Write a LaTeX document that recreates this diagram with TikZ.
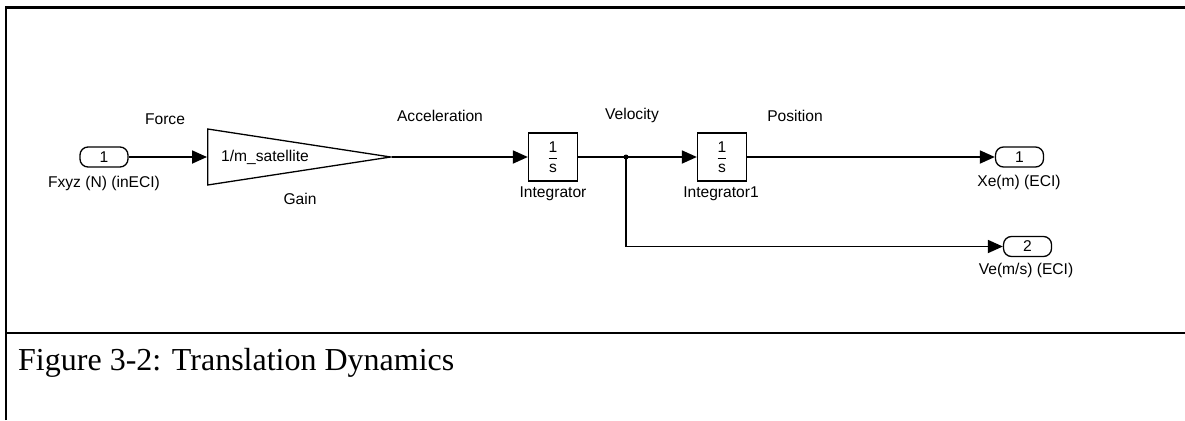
\documentclass[tikz,border=0pt]{standalone}
\usepackage{fontspec}
\setmainfont{Liberation Serif}
\setsansfont{Liberation Sans}
\usetikzlibrary{arrows.meta, shapes.geometric}

\begin{document}
\begin{tikzpicture}[x=1pt, y=-1pt,
  every node/.style={font=\sffamily\fontsize{15.6}{18}\selectfont},
  port/.style={draw, rounded corners=8pt, minimum width=48pt, minimum height=20pt, inner sep=0pt, line width=1.3pt},
  intg/.style={draw, minimum width=49pt, minimum height=48pt, inner sep=0pt, line width=1.3pt},
  gain/.style={draw, isosceles triangle, isosceles triangle stretches, shape border rotate=0, minimum width=56pt, minimum height=183pt, inner sep=0pt, line width=1.3pt},
  sig/.style={line width=1.8pt, -{Triangle[length=15pt, width=13pt]}}]
\useasboundingbox (0,0) rectangle (1185,420);
\draw[line width=2.5pt] (6,420) -- (6,7.5) -- (1185,7.5);
\draw[line width=2.5pt] (6,333) -- (1185,333);

\node[port] (in1) at (104,157) {1};
\node (in1lbl) at (104,183) {Fxyz (N) (inECI)};
\node[gain, anchor=west] (gain) at (207,157) {};
\node (gaintxt) at (265,157) {1/m\_satellite};
\node (gainlbl) at (300,199) {Gain};
\node[intg] (int1) at (553,157) {$\displaystyle\frac{\mbox{1}}{\mbox{s}}$};
\node (int1lbl) at (553,194) {Integrator};
\node[intg] (int2) at (722,157) {$\displaystyle\frac{\mbox{1}}{\mbox{s}}$};
\node (int2lbl) at (721,194) {Integrator1};
\node[port] (out1) at (1019.5,157) {1};
\node (out1lbl) at (1019,182) {Xe(m) (ECI)};
\node[port] (out2) at (1027.5,246.5) {2};
\node (out2lbl) at (1026,270) {Ve(m/s) (ECI)};
\coordinate (split) at (626,157);

\node (force) at (165,119) {Force};
\node (acc) at (440,116) {Acceleration};
\node (vel) at (632,115) {Velocity};
\node (pos) at (795,116) {Position};

\draw[sig] (in1) -- (gain.west);
\draw[sig] (gain.east) -- (int1);
\draw[sig] (int1) -- (int2);
\draw[sig] (int2) -- (out1);
\draw[sig] (split) |- (out2);
\fill (split) circle (2.5pt);

\node[anchor=base west, inner sep=0pt, font=\rmfamily\fontsize{32}{38}\selectfont] (caption) at (18,370) {Figure 3-2: Translation Dynamics};
\end{tikzpicture}
\end{document}
